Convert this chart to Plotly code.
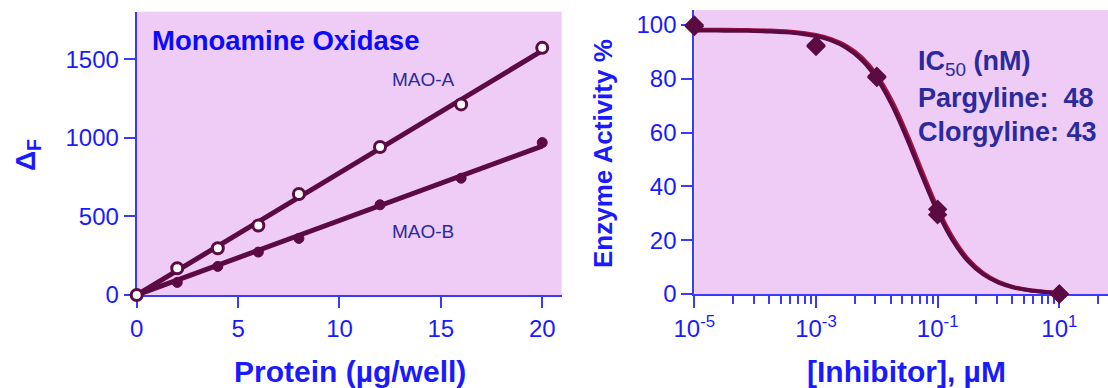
import plotly.graph_objects as go

# ---- Left panel data ----
protein = [0, 2, 4, 6, 8, 12, 16, 20]
mao_a = [0, 170, 298, 442, 643, 942, 1213, 1573]
mao_b = [0, 80, 182, 273, 360, 574, 743, 970]
fit_x = [0, 20]
fit_a = [0, 1555]
fit_b = [0, 948]

# ---- Right panel data ----
inhibitor = [1e-5, 1e-3, 1e-2, 1e-1, 10]
act_clorgyline = [100, 92.5, 80.5, 31.5, 0]
act_pargyline = [99.5, 92.0, 81.0, 29.5, 0]
curve_x = [1e-5, 1.78e-5, 3.16e-5, 5.62e-5, 1e-4, 1.78e-4, 3.16e-4, 5.62e-4,
           1e-3, 1.78e-3, 3.16e-3, 5.62e-3, 1e-2, 1.78e-2, 3.16e-2, 5.62e-2,
           1e-1, 1.78e-1, 3.16e-1, 5.62e-1, 1, 1.78, 3.16, 5.62, 10]
curve_pargyline = [98.28, 98.26, 98.24, 98.19, 98.10, 97.94, 97.66, 97.16,
                   96.30, 94.78, 92.23, 88.0, 81.37, 71.70, 59.29, 45.28,
                   31.88, 20.87, 12.97, 7.73, 4.50, 2.58, 1.47, 0.83, 0.47]
curve_clorgyline = [97.98, 97.96, 97.93, 97.88, 97.78, 97.61, 97.31, 96.79,
                    95.87, 94.28, 91.57, 87.12, 80.19, 70.25, 57.58, 43.58,
                    30.41, 19.80, 12.22, 7.26, 4.22, 2.42, 1.38, 0.78, 0.44]

left_xticks = [0, 5, 10, 15, 20]
left_yticks = [0, 500, 1000, 1500]
right_xticks = [1e-5, 1e-3, 1e-1, 10]
right_xtext = ["10<sup>-5</sup>", "10<sup>-3</sup>", "10<sup>-1</sup>", "10<sup>1</sup>"]
right_yticks = [0, 20, 40, 60, 80, 100]

MAROON = "#5C0A42"
RED = "#A8123E"
BLUE = "#1A1AFF"
AXIS = "#3A3AFF"
NAVY = "#2A2A9C"
BG = "#EECCF6"
FONT = "Liberation Sans, Arial, sans-serif"

fig = go.Figure()

# left: fit lines
fig.add_trace(go.Scatter(x=fit_x, y=fit_a, mode="lines", line=dict(color=MAROON, width=5),
                         xaxis="x", yaxis="y", showlegend=False))
fig.add_trace(go.Scatter(x=fit_x, y=fit_b, mode="lines", line=dict(color=MAROON, width=5),
                         xaxis="x", yaxis="y", showlegend=False))
# left: markers
fig.add_trace(go.Scatter(x=protein, y=mao_b, mode="markers", cliponaxis=False,
                         marker=dict(symbol="circle", size=10, color=MAROON,
                                     line=dict(color=MAROON, width=1)),
                         xaxis="x", yaxis="y", showlegend=False))
fig.add_trace(go.Scatter(x=protein, y=mao_a, mode="markers", cliponaxis=False,
                         marker=dict(symbol="circle", size=11, color="white",
                                     line=dict(color=MAROON, width=3)),
                         xaxis="x", yaxis="y", showlegend=False))

# right: curves
fig.add_trace(go.Scatter(x=curve_x, y=curve_pargyline, mode="lines", line=dict(color=RED, width=4, shape="spline"),
                         xaxis="x2", yaxis="y2", showlegend=False))
fig.add_trace(go.Scatter(x=curve_x, y=curve_clorgyline, mode="lines", line=dict(color=MAROON, width=4, shape="spline"),
                         xaxis="x2", yaxis="y2", showlegend=False))
fig.add_trace(go.Scatter(x=inhibitor, y=act_pargyline, mode="markers", cliponaxis=False,
                         marker=dict(symbol="diamond", size=15, color=MAROON),
                         xaxis="x2", yaxis="y2", showlegend=False))
fig.add_trace(go.Scatter(x=inhibitor, y=act_clorgyline, mode="markers", cliponaxis=False,
                         marker=dict(symbol="diamond", size=15, color=MAROON),
                         xaxis="x2", yaxis="y2", showlegend=False))

W, H = 1108, 388
def px(v):
    return v / W
def py(v):
    return 1 - v / H

fracs = [0.635, 0.978, 1.227, 1.42, 1.575, 1.707, 1.818, 1.917]
minor_vals = [10 ** (b + f) for b in (-5, -3, -1, 1) for f in fracs if b + f <= 1.8]

common = dict(showline=True, linecolor=AXIS, linewidth=2, ticks="outside", tickcolor=AXIS,
              tickwidth=2, showgrid=False, zeroline=False, layer="below traces",
              automargin=False,
              tickfont=dict(family=FONT, size=24, color=BLUE), fixedrange=True)

fig.update_layout(
    width=W, height=H, margin=dict(l=0, r=0, t=0, b=0, pad=0),
    paper_bgcolor="white", plot_bgcolor=BG,
    xaxis=dict(domain=[px(136.7), px(561.7)], range=[0, 20.96], tickmode="array",
               tickvals=left_xticks, ticklen=11, anchor="y", **common),
    yaxis=dict(domain=[py(295), py(11.7)], range=[0, 1803], tickmode="array",
               tickvals=left_yticks, ticklen=11, anchor="x", **common),
    xaxis2=dict(domain=[px(694.3), 1.0], type="log", range=[-5, 1.8], tickmode="array",
                tickvals=right_xticks, ticktext=right_xtext, ticklen=12, anchor="y2",
                minor=dict(tickmode="array", tickvals=minor_vals, ticks="outside", ticklen=8,
                           tickwidth=2, tickcolor=AXIS),
                **common),
    yaxis2=dict(domain=[py(294), py(10)], range=[0, 105.6], tickmode="array",
                tickvals=right_yticks, ticklen=11, anchor="x2", **common),
)

def ann(text, x, y, size, color, xanchor="center", yanchor="middle", angle=0):
    fig.add_annotation(text=text, x=px(x), y=py(y), xref="paper", yref="paper",
                       showarrow=False, xanchor=xanchor, yanchor=yanchor, textangle=angle,
                       font=dict(family=FONT, size=size, color=color))

ann("<b>Protein (µg/well)</b>", 350, 371, 30, BLUE)
ann("<b>[Inhibitor], µM</b>", 906, 371, 30, BLUE)
ann("<b>Enzyme Activity %</b>", 603, 154, 26, BLUE, angle=-90)
ann("<b>Δ<sub>F</sub></b>", 27, 155, 28, BLUE, angle=-90)
ann("<b>Monoamine Oxidase</b>", 150, 41, 27.5, "#0A0AFF", xanchor="left")
ann("MAO-A", 390, 80, 19, NAVY, xanchor="left")
ann("MAO-B", 390, 231, 19, NAVY, xanchor="left")
ann("<b>IC</b><sub>50</sub><b> (nM)</b>", 916, 63, 27, NAVY, xanchor="left")
ann("<b>Pargyline:\u00a0 48</b>", 916, 98, 27, NAVY, xanchor="left")
ann("<b>Clorgyline: 43</b>", 916, 132, 27, NAVY, xanchor="left")

fig.write_html("out.html", config={"displayModeBar": False},
               post_script="document.body.style.margin='0';document.body.style.overflow='hidden';")
